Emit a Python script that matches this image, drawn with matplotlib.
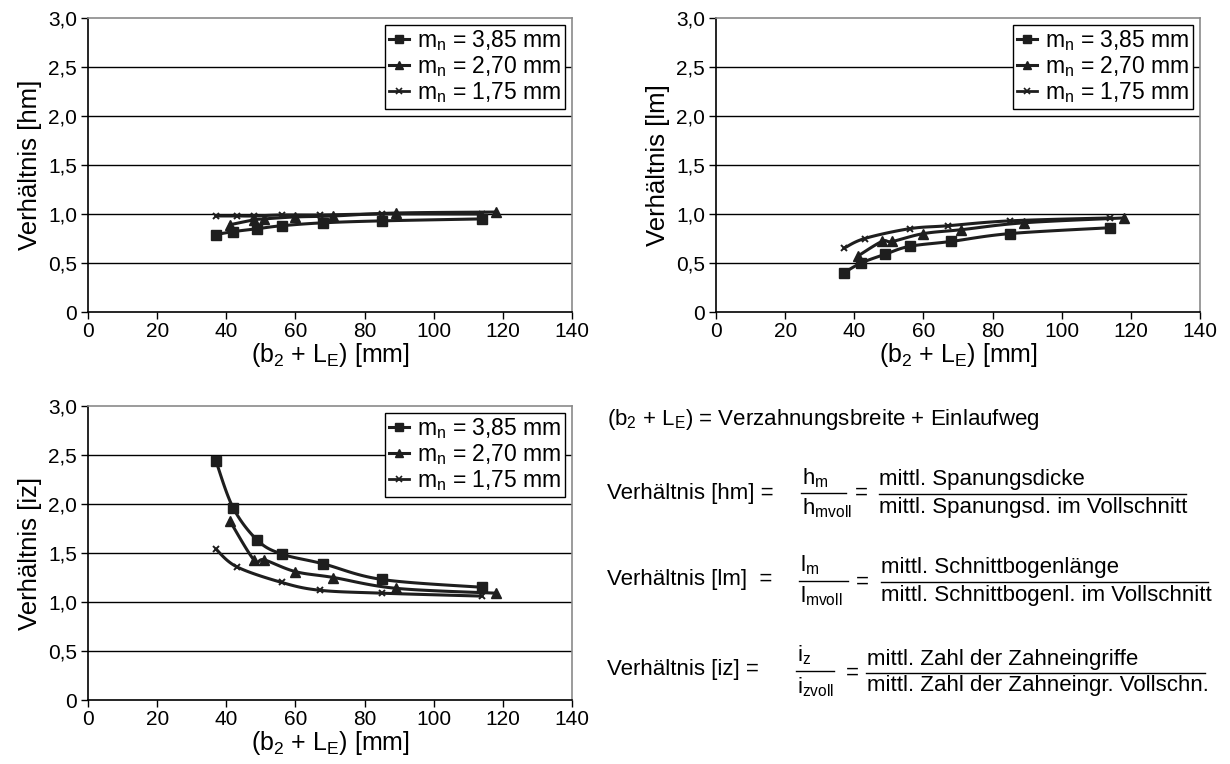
import numpy as np
import matplotlib
matplotlib.use("Agg")
import matplotlib.pyplot as plt
from matplotlib.lines import Line2D
from matplotlib.ticker import FuncFormatter

plt.rcParams['font.family'] = ['Liberation Sans', 'DejaVu Sans']
plt.rcParams['mathtext.fontset'] = 'custom'
plt.rcParams['mathtext.rm'] = 'Liberation Sans'
plt.rcParams['mathtext.it'] = 'Liberation Sans'
plt.rcParams['mathtext.default'] = 'rm'

# ---------------- data ----------------
series_labels = ["m$_n$ = 3,85 mm", "m$_n$ = 2,70 mm", "m$_n$ = 1,75 mm"]

x_385 = [37, 42, 49, 56, 68, 85, 114]
x_270 = [41, 48, 51, 60, 71, 89, 118]
x_175_hm = [37, 43, 48, 56, 67, 85, 114]
x_175 = [37, 43, 56, 67, 85, 114]

hm_385 = [0.79, 0.82, 0.85, 0.88, 0.91, 0.93, 0.95]
hm_270 = [0.89, 0.94, 0.95, 0.97, 0.98, 1.01, 1.02]
hm_175 = [0.98, 0.98, 0.98, 0.99, 0.99, 1.00, 1.00]

lm_385 = [0.40, 0.50, 0.59, 0.67, 0.72, 0.80, 0.86]
lm_270 = [0.57, 0.72, 0.72, 0.80, 0.84, 0.91, 0.96]
lm_175 = [0.65, 0.75, 0.85, 0.88, 0.93, 0.96]

iz_385 = [2.44, 1.96, 1.63, 1.49, 1.39, 1.23, 1.15]
iz_270 = [1.83, 1.43, 1.43, 1.31, 1.25, 1.14, 1.09]
iz_175 = [1.54, 1.36, 1.20, 1.12, 1.09, 1.06]

x_ticks = [0, 20, 40, 60, 80, 100, 120, 140]
y_ticks = [0, 0.5, 1.0, 1.5, 2.0, 2.5, 3.0]

COL = '#1e1e1e'


def smooth(x, y, n=20):
    """Catmull-Rom path through the points (display smoothing only)."""
    x = np.asarray(x, float); y = np.asarray(y, float)
    P = np.column_stack([x, y])
    P = np.vstack([P[0], P, P[-1]])
    out = []
    for i in range(1, len(P) - 2):
        p0, p1, p2, p3 = P[i - 1], P[i], P[i + 1], P[i + 2]
        t = np.linspace(0, 1, n, endpoint=False)[:, None]
        c = 0.5 * ((2 * p1) + (-p0 + p2) * t + (2 * p0 - 5 * p1 + 4 * p2 - p3) * t ** 2
                   + (-p0 + 3 * p1 - 3 * p2 + p3) * t ** 3)
        out.append(c)
    out.append(P[-2][None, :])
    c = np.vstack(out)
    return c[:, 0], c[:, 1]


def fmt_y(v, pos):
    if abs(v) < 1e-9:
        return "0"
    return ("%.1f" % v).replace('.', ',')


W, H = 1230, 764
fig = plt.figure(figsize=(W / 100, H / 100), dpi=100)


def make_axes(l, r, t, b):
    return fig.add_axes([l / W, 1 - b / H, (r - l) / W, (b - t) / H])


def style(ax, ylabel):
    ax.set_xlim(0, 140)
    ax.set_ylim(0, 3.0)
    ax.set_xticks(x_ticks)
    ax.set_yticks(y_ticks)
    ax.yaxis.set_major_formatter(FuncFormatter(fmt_y))
    ax.tick_params(axis='both', direction='out', length=5, width=1, labelsize=15, pad=2, color='black')
    ax.tick_params(axis='y', pad=3)
    for v in y_ticks[1:-1]:
        ax.axhline(v, color='black', lw=1.0, zorder=1)
    ax.spines['left'].set_color('black')
    ax.spines['bottom'].set_color('black')
    ax.spines['top'].set_color('#8a8a8a')
    ax.spines['right'].set_color('#8a8a8a')
    for s in ax.spines.values():
        s.set_linewidth(1.2)
    ax.set_ylabel(ylabel, fontsize=18.5, labelpad=4)
    ax.set_xlabel("(b$_2$ + L$_E$) [mm]", fontsize=18, labelpad=0)


def plot_series(ax, xs, ys, marker, ms, mew=1.0):
    sx, sy = smooth(xs, ys)
    ax.plot(sx, sy, color=COL, lw=2.2, zorder=3, solid_capstyle='round')
    ax.plot(xs, ys, linestyle='none', marker=marker, ms=ms, color=COL, mec=COL, mew=mew, zorder=4)


def legend(ax):
    handles = [Line2D([], [], color=COL, lw=2.2, marker='s', ms=5.5),
               Line2D([], [], color=COL, lw=2.2, marker='^', ms=6),
               Line2D([], [], color=COL, lw=2.0, marker='x', ms=4, mew=1.2)]
    leg = ax.legend(handles, series_labels, loc='upper right', fontsize=16.5, frameon=True, fancybox=False,
                    edgecolor='black', framealpha=1, handlelength=0.9, handletextpad=0.35,
                    borderpad=0.15, labelspacing=0.05, borderaxespad=0.3)
    leg.get_frame().set_linewidth(1.0)


panels = [
    ((88, 572, 18, 312), "Verhältnis [hm]", (hm_385, hm_270, hm_175), x_175_hm),
    ((716, 1200, 18, 312), "Verhältnis [lm]", (lm_385, lm_270, lm_175), x_175),
    ((88, 572, 406, 700), "Verhältnis [iz]", (iz_385, iz_270, iz_175), x_175),
]

for box, ylab, (a, b, c), x3 in panels:
    ax = make_axes(*box)
    style(ax, ylab)
    plot_series(ax, x_385, a, 's', 7.5)
    plot_series(ax, x_270, b, '^', 7.5)
    plot_series(ax, x3, c, 'x', 5, mew=1.4)
    legend(ax)

# ---------------- text block ----------------
FS = 16


def ftext(x, y, s, **kw):
    fig.text(x / W, 1 - y / H, s, fontsize=kw.pop('fs', FS), va=kw.pop('va', 'center'),
             ha=kw.pop('ha', 'left'), **kw)


def hline(x0, x1, y):
    fig.add_artist(Line2D([x0 / W, x1 / W], [1 - y / H, 1 - y / H], color='black', lw=1.0))


ftext(607, 420, "(b$_2$ + L$_E$) = Verzahnungsbreite + Einlaufweg")

# hm
ftext(607, 493, "Verhältnis [hm] =")
ftext(802, 478, "h$_\\mathrm{m}$")
hline(801, 846, 493)
ftext(802, 508, "h$_\\mathrm{mvoll}$")
ftext(855, 493, "=")
ftext(879, 480, "mittl. Spanungsdicke")
hline(879, 1186, 494)
ftext(879, 507, "mittl. Spanungsd. im Vollschnitt")

# lm
ftext(607, 580, "Verhältnis [lm]  =")
ftext(800, 565, "l$_\\mathrm{m}$")
hline(799, 848, 581)
ftext(800, 596, "l$_\\mathrm{mvoll}$")
ftext(856, 582, "=")
ftext(881, 568, "mittl. Schnittbogenlänge")
hline(881, 1208, 582)
ftext(881, 595, "mittl. Schnittbogenl. im Vollschnitt")

# iz
ftext(607, 669, "Verhältnis [iz] =")
ftext(797, 655, "i$_\\mathrm{z}$")
hline(796, 834, 671)
ftext(797, 687, "i$_\\mathrm{zvoll}$")
ftext(846, 673, "=")
ftext(867, 660, "mittl. Zahl der Zahneingriffe")
hline(866, 1205, 673)
ftext(867, 686, "mittl. Zahl der Zahneingr. Vollschn.")

fig.savefig("out.png", dpi=100)
